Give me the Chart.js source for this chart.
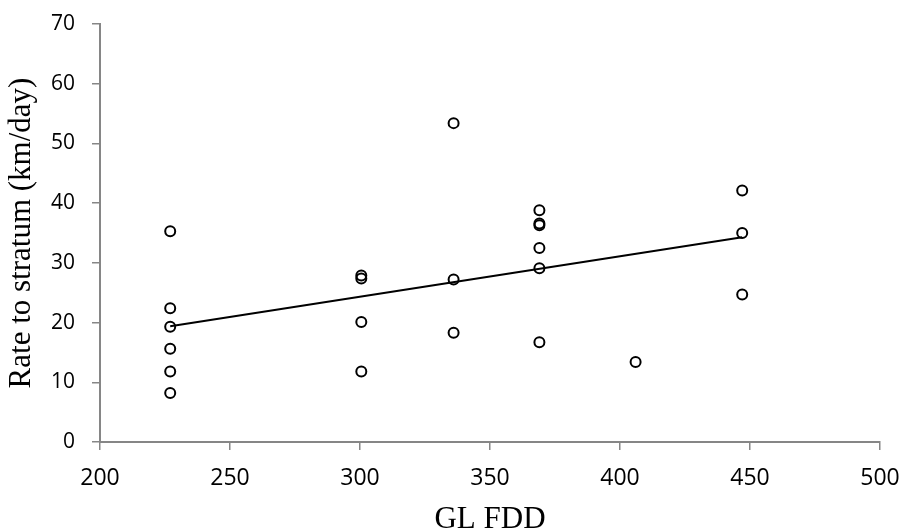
<!DOCTYPE html>
<html><head><meta charset="utf-8">
<script src="https://cdn.jsdelivr.net/npm/chart.js@4"></script>
<style>html,body{margin:0;padding:0;background:#fff}#wrap{width:903px;height:531px}</style>
</head><body><div id="wrap"><canvas id="c" width="903" height="531"></canvas></div>
<script>
const fddX = [227, 227, 227, 227, 227, 227, 300.5, 300.5, 300.5, 300.5, 336, 336, 336, 369, 369, 369, 369, 369, 369, 406, 447, 447, 447];
const rateY = [35.3, 22.4, 19.3, 15.6, 11.8, 8.2, 27.9, 27.4, 20.1, 11.8, 53.4, 27.2, 18.3, 38.8, 36.6, 36.3, 32.5, 29.1, 16.7, 13.4, 42.1, 35.0, 24.7];
const trendX = [227, 447];
const trendY = [19.4, 34.3];
const xTicks = [200, 250, 300, 350, 400, 450, 500];
const yTicks = [0, 10, 20, 30, 40, 50, 60, 70];

const pts = fddX.map((x, i) => ({x, y: rateY[i]}));
const trend = trendX.map((x, i) => ({x, y: trendY[i]}));
const axisCol = '#868686';
new Chart(document.getElementById('c'), {
  type: 'scatter',
  data: { datasets: [
    { data: trend, type: 'line', showLine: true, borderColor: '#000', borderWidth: 2, pointRadius: 0, fill: false, order: 2 },
    { data: pts, pointStyle: 'circle', pointRadius: 5, borderWidth: 2, borderColor: '#000', backgroundColor: 'rgba(255,255,255,0)', order: 1 }
  ]},
  options: {
    responsive: false, animation: false,
    layout: { padding: { left: 0, right: 23, top: 24, bottom: 0 } },
    plugins: { legend: { display: false }, tooltip: { enabled: false } },
    scales: {
      x: { type: 'linear', min: 200, max: 500,
        afterBuildTicks: s => { s.ticks = xTicks.map(v => ({value: v})); },
        afterFit: s => { s.height = 89; s.paddingLeft = 0; s.paddingRight = 0; },
        grid: { drawOnChartArea: false, drawTicks: true, tickLength: 8, color: axisCol, lineWidth: 1.5 },
        border: { color: axisCol, width: 2 },
        ticks: { color: '#000', font: { family: 'Open Sans', size: 23 }, padding: 15 },
        title: { display: true, text: 'GL FDD', color: '#000', font: { family: 'Liberation Serif', size: 31, lineHeight: 0.75 }, padding: { top: 0, bottom: 0 } }
      },
      y: { type: 'linear', min: 0, max: 70,
        afterBuildTicks: s => { s.ticks = yTicks.map(v => ({value: v})); },
        afterFit: s => { s.width = 100; s.paddingTop = 0; s.paddingBottom = 0; },
        grid: { drawOnChartArea: false, drawTicks: true, tickLength: 8, color: axisCol, lineWidth: 1.5 },
        border: { color: axisCol, width: 2 },
        ticks: { color: '#000', font: { family: 'Open Sans', size: 21 }, padding: 17 },
        title: { display: true, text: 'Rate to stratum (km/day)', color: '#000', font: { family: 'Liberation Serif', size: 31, lineHeight: 1 }, padding: { top: 6, bottom: 0 } }
      }
    }
  }
});
</script></body></html>
